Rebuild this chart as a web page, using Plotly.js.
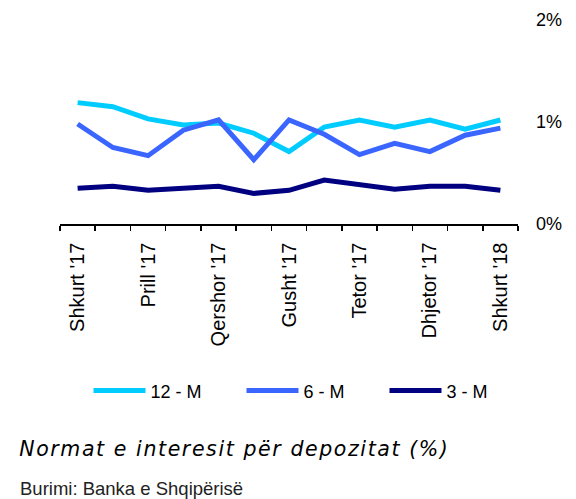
<!DOCTYPE html>
<html>
<head>
<meta charset="utf-8">
<script src="https://cdn.plot.ly/plotly-3.0.1.min.js"></script>
<style>
html, body { margin: 0; padding: 0; background: #fff; }
#chart { width: 576px; height: 499px; }
g.annotation[data-index="0"] text { letter-spacing: 1.6px; }
</style>
</head>
<body>
<div id="chart"></div>
<script>
const months = ['2017-02','2017-03','2017-04','2017-05','2017-06','2017-07','2017-08','2017-09','2017-10','2017-11','2017-12','2018-01','2018-02'];
const tickLabels = ["Shkurt '17", '', "Prill '17", '', "Qershor '17", '', "Gusht '17", '', "Tetor '17", '', "Dhjetor '17", '', "Shkurt '18"];
const rate12M = [1.19, 1.15, 1.03, 0.97, 0.99, 0.89, 0.71, 0.95, 1.02, 0.95, 1.02, 0.93, 1.02];
const rate6M  = [0.98, 0.75, 0.67, 0.92, 1.02, 0.63, 1.02, 0.88, 0.68, 0.79, 0.71, 0.87, 0.94];
const rate3M  = [0.35, 0.37, 0.33, 0.35, 0.37, 0.30, 0.33, 0.43, 0.39, 0.34, 0.37, 0.37, 0.33];
const seriesNames = ['12 - M', '6 - M', '3 - M'];
const colors = ['#00CCFF', '#3A66FF', '#000080'];
const legendWidths = [86, 76, 60];

const font = 'Liberation Sans, Arial, sans-serif';
const data = [rate12M, rate6M, rate3M].map((ys, i) => ({
  type: 'scatter', mode: 'lines', x: months, y: ys, name: seriesNames[i],
  line: { color: colors[i], width: 5 }, hoverinfo: 'skip',
  legendwidth: legendWidths[i]
}));

const layout = {
  width: 576, height: 499,
  margin: { l: 60, r: 58, t: 20, b: 275 },
  paper_bgcolor: '#fff', plot_bgcolor: '#fff',
  showlegend: true,
  legend: {
    orientation: 'h', x: 0.0622, xanchor: 'left', y: -0.818, yanchor: 'middle',
    font: { family: font, size: 18, color: '#000' }, itemwidth: 52,
    traceorder: 'normal'
  },
  xaxis: {
    type: 'category', tickmode: 'array', tickvals: months, ticktext: tickLabels,
    tickson: 'boundaries', ticks: 'outside', ticklen: 5, tickwidth: 1.5, tickcolor: '#000',
    tickangle: -90, tickfont: { family: font, size: 20, color: '#000' },
    ticklabelstandoff: 9,
    showline: true, linecolor: '#000', linewidth: 1.5, showgrid: false, zeroline: false,
    range: [-0.5, 12.5]
  },
  yaxis: {
    side: 'right', range: [0, 2], tickvals: [0, 1, 2], ticktext: ['0%', '1%', '2%'],
    showgrid: false, zeroline: false, showline: false, ticks: '',
    ticklabelstandoff: 17,
    tickfont: { family: font, size: 18, color: '#000' }
  },
  annotations: [
    { text: '<i>Normat e interesit për depozitat (%)</i>', xref: 'paper', yref: 'paper',
      x: 0, xanchor: 'left', xshift: -14, y: 0, yanchor: 'middle', yshift: -225,
      showarrow: false, font: { family: 'DejaVu Sans, sans-serif', size: 20.5, color: '#000' } },
    { text: 'Burimi: Banka e Shqipërisë', xref: 'paper', yref: 'paper',
      x: 0, xanchor: 'left', xshift: -42, y: 0, yanchor: 'middle', yshift: -264,
      showarrow: false, font: { family: font, size: 18.5, color: '#222' } }
  ]
};

Plotly.newPlot('chart', data, layout, { displayModeBar: false, staticPlot: true });
</script>
</body>
</html>
